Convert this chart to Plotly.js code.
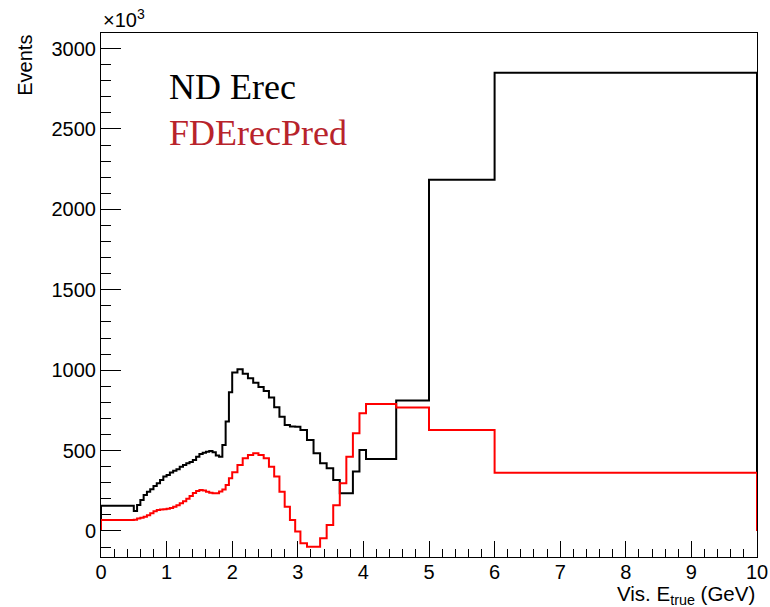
<!DOCTYPE html>
<html>
<head>
<meta charset="utf-8">
<script src="https://cdn.plot.ly/plotly-3.0.1.min.js"></script>
<style>html,body{margin:0;padding:0;background:#fff;}#chart{width:770px;height:607px;}</style>
</head>
<body>
<div id="chart"></div>
<script>
// Bin edges (Vis. E_true, GeV)
const binEdges = [0, 0.50, 0.55, 0.60, 0.65, 0.70, 0.75, 0.80, 0.85, 0.90, 0.95,
  1.00, 1.05, 1.10, 1.15, 1.20, 1.25, 1.30, 1.35, 1.40, 1.45,
  1.50, 1.55, 1.60, 1.65, 1.70, 1.75, 1.80, 1.85, 1.90, 1.95,
  2.00, 2.08, 2.16, 2.24, 2.32, 2.40, 2.48, 2.56, 2.64, 2.72,
  2.80, 2.88, 2.96, 3.04, 3.14, 3.24, 3.34, 3.44, 3.54, 3.64,
  3.74, 3.84, 3.94, 4.04, 4.50, 5.00, 6.00, 10.00];

// Events (x10^3) per bin
const ndErec = [157,
  124, 162, 193, 224, 244, 259, 280, 297, 317, 338,
  348, 363, 375, 384, 400, 410, 421, 429, 442, 462,
  479, 487, 493, 498, 490, 470, 462, 535, 680, 862,
  985, 1005, 978, 950, 922, 895, 870, 830, 770, 711,
  659, 650, 648,
  628, 566, 483, 421, 390, 317, 234, 234, 369, 504,
  448, 812, 2185, 2850];

const fdErecPred = [68,
  70, 78, 82, 88, 98, 110, 122, 130, 133, 135,
  138, 143, 150, 160, 172, 185, 200, 218, 236, 249,
  255, 252, 244, 238, 234, 234, 245, 258, 286, 328,
  365, 410, 452, 473, 483, 473, 452, 400, 338, 244,
  151, 68, -4,
  -77, -98, -98, -45, 37, 160, 297, 462, 607, 732,
  790, 768, 628, 362];

const seriesNames = ["ND Erec", "FDErecPred"];
const tickLabelsY = [0, 500, 1000, 1500, 2000, 2500, 3000];

function stepXY(edges, vals) {
  const x = [edges[0]], y = [0];
  for (let i = 0; i < vals.length; i++) { x.push(edges[i]); y.push(vals[i]); }
  x.push(edges[edges.length - 1]); y.push(vals[vals.length - 1]);
  x.push(edges[edges.length - 1]); y.push(0);
  return {x, y};
}

const nd = stepXY(binEdges, ndErec);
const fd = stepXY(binEdges, fdErecPred);

const traces = [
  {x: nd.x, y: nd.y, type: 'scatter', mode: 'lines', line: {shape: 'hv', color: '#000000', width: 2}, name: seriesNames[0], hoverinfo: 'skip'},
  {x: fd.x, y: fd.y, type: 'scatter', mode: 'lines', line: {shape: 'hv', color: '#ff0000', width: 2}, name: seriesNames[1], hoverinfo: 'skip'}
];

const sans = 'Liberation Sans, Arial, Helvetica, sans-serif';
const serif = 'Liberation Serif, Times New Roman, serif';

const layout = {
  width: 770, height: 607,
  margin: {l: 101, r: 13, t: 33, b: 50},
  paper_bgcolor: '#ffffff', plot_bgcolor: '#ffffff',
  showlegend: false,
  xaxis: {
    range: [0, 10], tick0: 0, dtick: 1,
    showline: true, mirror: true, linecolor: '#000', linewidth: 1,
    ticks: 'inside', ticklen: 16, tickwidth: 1, tickcolor: '#000',
    ticklabelstandoff: -3,
    minor: {dtick: 0.2, ticks: 'inside', ticklen: 8, tickwidth: 1, tickcolor: '#000', showgrid: false},
    showgrid: false, zeroline: false,
    tickfont: {family: sans, size: 20, color: '#000'}
  },
  yaxis: {
    range: [-162, 3097], tickvals: tickLabelsY, tickformat: 'd',
    showline: true, mirror: true, linecolor: '#000', linewidth: 1,
    ticks: 'inside', ticklen: 20, tickwidth: 1, tickcolor: '#000',
    minor: {dtick: 100, tick0: 0, ticks: 'inside', ticklen: 10, tickwidth: 1, tickcolor: '#000', showgrid: false},
    showgrid: false, zeroline: false,
    tickfont: {family: sans, size: 20, color: '#000'}
  },
  annotations: [
    {text: '\u00d710<sup>3</sup>', xref: 'paper', yref: 'paper', x: 0, y: 1, xanchor: 'left', yanchor: 'bottom',
     showarrow: false, font: {family: sans, size: 20, color: '#000'}},
    {text: 'Events', xref: 'paper', yref: 'paper', x: -0.117, y: 1.0, xanchor: 'center', yanchor: 'top', textangle: -90,
     showarrow: false, font: {family: sans, size: 20, color: '#000'}},
    {text: 'Vis. E<sub>true</sub> (GeV)', xref: 'paper', yref: 'paper', x: 1.0, y: -0.043, xanchor: 'right', yanchor: 'top',
     showarrow: false, font: {family: sans, size: 20.5, color: '#000'}},
    {text: seriesNames[0], xref: 'paper', yref: 'paper', x: 0.1006, y: 0.897, xanchor: 'left', yanchor: 'middle',
     showarrow: false, font: {family: serif, size: 36, color: '#000000'}},
    {text: seriesNames[1], xref: 'paper', yref: 'paper', x: 0.1006, y: 0.809, xanchor: 'left', yanchor: 'middle',
     showarrow: false, font: {family: serif, size: 36, color: '#b8232b'}}
  ]
};

Plotly.newPlot('chart', traces, layout, {displayModeBar: false, staticPlot: true});
</script>
</body>
</html>
